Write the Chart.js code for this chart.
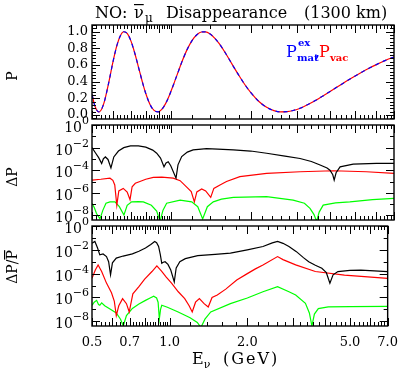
<!DOCTYPE html>
<html><head><meta charset="utf-8">
<script src="https://cdn.jsdelivr.net/npm/chart.js@4"></script>
<style>
html,body{margin:0;padding:0;background:#fff;}
#wrap{position:relative;width:407px;height:370px;background:#fff;}
canvas{position:absolute;left:0;top:0;}
</style></head><body>
<div id="wrap">
<canvas id="c1" width="407" height="370"></canvas>
<canvas id="c2" width="407" height="370"></canvas>
<canvas id="c3" width="407" height="370"></canvas>
</div>
<script>
// ---------------- DATA ----------------
const energyP = [0.50,0.51,0.52,0.53,0.54,0.55,0.56,0.58,0.60,0.62,0.64,0.66,0.68,0.70,0.72,0.74,0.76,0.78,0.80,0.83,0.86,0.89,0.92,0.95,0.98,1.02,1.06,1.10,1.15,1.20,1.25,1.30,1.35,1.40,1.46,1.52,1.60,1.70,1.80,1.90,2.00,2.15,2.30,2.45,2.60,2.75,2.90,3.10,3.30,3.55,3.80,4.10,4.40,4.80,5.20,5.60,6.00,6.50,7.00];
const pVac   = [0.245,0.131,0.062,0.035,0.052,0.105,0.187,0.401,0.630,0.822,0.949,0.999,0.978,0.901,0.785,0.648,0.507,0.373,0.256,0.125,0.053,0.036,0.066,0.132,0.224,0.365,0.511,0.647,0.790,0.896,0.963,0.996,0.997,0.975,0.923,0.855,0.749,0.609,0.480,0.365,0.270,0.160,0.090,0.051,0.036,0.038,0.052,0.083,0.124,0.178,0.236,0.301,0.363,0.437,0.501,0.556,0.604,0.655,0.696];
const pMatEx = [0.245,0.131,0.062,0.035,0.052,0.105,0.187,0.401,0.630,0.822,0.949,0.999,0.978,0.901,0.785,0.648,0.507,0.373,0.256,0.125,0.053,0.036,0.066,0.132,0.224,0.365,0.511,0.647,0.790,0.896,0.963,0.996,0.997,0.975,0.923,0.855,0.749,0.609,0.480,0.365,0.270,0.160,0.090,0.051,0.036,0.038,0.052,0.083,0.124,0.178,0.236,0.301,0.363,0.437,0.501,0.556,0.604,0.655,0.696];

// Delta P (middle panel)
const eBlackDP = [0.500,0.515,0.530,0.544,0.552,0.562,0.575,0.590,0.605,0.630,0.660,0.700,0.750,0.800,0.850,0.880,0.910,0.938,0.955,0.973,0.995,1.042,1.060,1.095,1.150,1.210,1.300,1.360,1.500,1.720,2.000,2.300,2.700,3.080,3.400,3.670,3.900,4.000,4.100,4.150,4.220,4.370,4.900,6.000,7.000];
const blackDP  = [1.0e-2,3.5e-3,1.3e-3,4.0e-4,1.0e-3,1.5e-3,9.0e-4,1.6e-4,1.5e-3,5.0e-3,1.0e-2,1.4e-2,1.4e-2,1.1e-2,6.0e-3,3.2e-3,1.2e-3,2.0e-4,4.5e-4,5.6e-4,2.5e-4,2.0e-5,3.0e-4,1.6e-3,4.0e-3,6.3e-3,7.5e-3,8.0e-3,7.5e-3,6.3e-3,5.0e-3,3.2e-3,1.8e-3,1.1e-3,6.0e-4,2.9e-4,1.6e-4,1.0e-4,4.0e-5,1.35e-5,6.0e-5,2.0e-4,3.5e-4,4.0e-4,4.0e-4];
const eRedDP = [0.500,0.540,0.585,0.600,0.610,0.621,0.632,0.657,0.680,0.697,0.710,0.730,0.760,0.800,0.854,0.920,1.017,1.080,1.144,1.190,1.223,1.250,1.304,1.350,1.411,1.450,1.530,1.620,1.820,2.300,3.080,4.120,5.500,7.000];
const redDP  = [1.35e-5,1.6e-5,2.0e-5,1.3e-5,5.0e-6,8.0e-8,1.5e-6,2.5e-6,1.2e-6,2.5e-7,3.5e-6,7.0e-6,1.0e-5,1.6e-5,2.3e-5,2.5e-5,2.0e-5,1.2e-5,3.2e-6,1.3e-6,1.6e-7,1.2e-6,2.2e-6,1.5e-6,4.0e-7,2.5e-6,5.0e-6,1.0e-5,2.7e-5,5.2e-5,7.4e-5,9.0e-5,7.4e-5,5.2e-5];
const eGreenDP = [0.500,0.510,0.520,0.536,0.550,0.565,0.585,0.611,0.635,0.661,0.680,0.707,0.750,0.783,0.840,0.880,0.906,0.930,0.960,1.080,1.195,1.260,1.315,1.370,1.443,1.550,1.720,2.300,2.900,3.200,3.360,3.480,3.560,3.640,3.770,4.200,4.760,5.800,7.000];
const greenDP  = [1.2e-7,5.0e-8,1.5e-8,5.0e-9,3.0e-8,1.2e-7,1.6e-7,1.6e-7,6.0e-8,1.1e-8,8.0e-8,1.6e-7,1.7e-7,1.6e-7,8.0e-8,2.5e-8,3.0e-9,3.0e-8,1.2e-7,2.3e-7,1.6e-7,6.0e-8,5.0e-9,6.0e-8,1.6e-7,2.8e-7,4.0e-7,4.6e-7,2.3e-7,1.2e-7,4.3e-8,1.2e-8,3.0e-9,2.0e-8,8.3e-8,1.3e-7,1.6e-7,2.5e-7,3.2e-7];

// Delta P / Pbar (bottom panel)
const eBlackRel = [0.500,0.513,0.525,0.536,0.552,0.569,0.580,0.590,0.600,0.621,0.660,0.717,0.760,0.806,0.845,0.875,0.890,0.906,0.920,0.932,0.945,0.960,0.985,1.010,1.042,1.060,1.095,1.150,1.285,1.500,1.720,2.000,2.300,2.500,2.620,2.750,2.900,3.100,3.300,3.460,3.670,3.890,4.050,4.180,4.300,4.490,5.000,5.510,7.000];
const blackRel  = [3.5e-2,5.0e-2,1.5e-2,3.8e-3,4.5e-3,2.7e-3,1.0e-3,8.0e-5,8.0e-4,2.0e-3,3.0e-3,4.6e-3,7.5e-3,1.4e-2,2.8e-2,5.0e-2,4.0e-2,1.9e-2,4.0e-3,7.4e-4,9.0e-4,1.0e-3,6.0e-4,2.0e-4,2.0e-5,3.0e-4,1.0e-3,1.8e-3,3.2e-3,4.2e-3,5.2e-3,1.0e-2,1.9e-2,3.8e-2,5.0e-2,3.5e-2,1.9e-2,7.0e-3,2.2e-3,1.0e-3,5.0e-4,2.8e-4,1.2e-4,1.6e-5,8.0e-5,1.5e-4,1.9e-4,2.0e-4,1.5e-4];
const eRedRel = [0.500,0.515,0.528,0.545,0.569,0.595,0.610,0.621,0.635,0.657,0.680,0.697,0.720,0.760,0.800,0.854,0.892,0.930,0.970,1.017,1.080,1.144,1.190,1.223,1.260,1.304,1.360,1.411,1.460,1.530,1.650,1.820,2.000,2.150,2.300,2.620,2.750,3.080,3.670,4.760,7.000];
const redRel  = [4.0e-5,2.0e-4,5.4e-4,1.5e-4,1.6e-5,2.5e-6,5.0e-7,3.0e-8,2.0e-7,8.0e-7,3.0e-7,6.0e-8,2.0e-6,8.0e-6,3.5e-5,1.5e-4,4.4e-4,1.6e-4,5.0e-5,1.6e-5,3.0e-6,8.0e-7,2.0e-7,6.0e-8,4.0e-7,8.0e-7,3.0e-7,1.6e-7,1.0e-6,1.6e-6,5.0e-6,2.9e-5,1.0e-4,2.5e-4,5.4e-4,2.7e-3,1.5e-3,5.4e-4,1.5e-4,7.6e-5,4.0e-5];
const eGreenRel = [0.500,0.510,0.521,0.530,0.536,0.545,0.560,0.585,0.621,0.645,0.661,0.680,0.717,0.760,0.806,0.840,0.867,0.890,0.902,0.912,0.922,0.932,0.980,1.079,1.200,1.280,1.322,1.370,1.443,1.720,2.000,2.300,2.620,2.900,3.080,3.360,3.480,3.560,3.640,3.770,4.120,5.000,7.000];
const greenRel  = [2.2e-7,4.0e-7,5.7e-7,2.5e-7,2.2e-7,3.5e-7,2.0e-7,1.1e-7,5.0e-8,1.5e-8,4.0e-9,3.0e-8,1.2e-7,2.8e-7,5.7e-7,9.0e-7,1.26e-6,9.0e-7,4.0e-7,1.6e-8,1.0e-7,2.2e-7,1.5e-7,6.0e-8,2.0e-8,8.0e-9,3.0e-9,1.5e-8,6.0e-8,3.0e-7,9.0e-7,3.0e-6,8.0e-6,3.0e-6,1.6e-6,3.2e-7,5.0e-8,4.0e-9,4.0e-8,1.15e-7,1.6e-7,1.7e-7,1.8e-7];

// Ticks
const xTickLabels = [0.5,0.7,1.0,2.0,5.0,7.0];
const xMajorTicks = [0.5,0.6,0.7,0.8,0.9,1,2,3,4,5,6,7];
const pTickLabels = [0.0,0.2,0.4,0.6,0.8,1.0];
const logLabelExps = [0,-2,-4,-6,-8];
const logOddExps = [-1,-3,-5,-7];

// ---------------- DRAWING ----------------
const FONT = '"DejaVu Serif", serif';
const xMinorTicks = [];
for (let i = 26; i < 50; i++) if (i % 5) xMinorTicks.push(i / 50);
for (let i = 6; i < 35; i++) if (i % 5) xMinorTicks.push(i / 5);
const pMinorTicks = [];
for (let i = -1; i <= 27; i++) if (i % 5) pMinorTicks.push(i * 0.04);

function ser(e, v) { return e.map((x, i) => ({x: x, y: v[i]})); }

function framePlugin(yMajor, yMinor) {
  return {
    id: 'frame',
    afterDraw(chart) {
      const ctx = chart.ctx, a = chart.chartArea;
      const xs = chart.scales.x, ys = chart.scales.y;
      ctx.save();
      ctx.strokeStyle = '#000';
      ctx.lineWidth = 1;
      ctx.beginPath();
      const vx = (list, len) => list.forEach(v => {
        const p = Math.round(xs.getPixelForValue(v)) + 0.5;
        ctx.moveTo(p, a.bottom); ctx.lineTo(p, a.bottom - len);
        ctx.moveTo(p, a.top); ctx.lineTo(p, a.top + len);
      });
      const hy = (list, len) => list.forEach(v => {
        const p = Math.round(ys.getPixelForValue(v)) + 0.5;
        if (p < a.top - 0.1 || p > a.bottom + 0.1) return;
        ctx.moveTo(a.left, p); ctx.lineTo(a.left + len, p);
        ctx.moveTo(a.right, p); ctx.lineTo(a.right - len, p);
      });
      vx(xMajorTicks, 8); vx(xMinorTicks, 4);
      hy(yMajor, 8); hy(yMinor, 4);
      ctx.stroke();
      ctx.lineWidth = 1.4;
      ctx.strokeRect(a.left, a.top, a.right - a.left, a.bottom - a.top);
      ctx.restore();
    }
  };
}

const expLabelPlugin = {
  id: 'expLabels',
  afterDraw(chart) {
    const ys = chart.scales.y, ctx = chart.ctx;
    ctx.save(); ctx.fillStyle = '#000'; ctx.textAlign = 'left'; ctx.textBaseline = 'alphabetic';
    logLabelExps.forEach(p => {
      const y = ys.getPixelForValue(Math.pow(10, p));
      const sup = p === 0 ? '0' : '\u2212' + Math.abs(p);
      ctx.font = '11px ' + FONT; const ws = ctx.measureText(sup).width;
      ctx.font = '14px ' + FONT; const wb = ctx.measureText('10').width;
      const right = 89;
      ctx.fillText('10', right - ws - wb, y + 7);
      ctx.font = '11px ' + FONT; ctx.fillText(sup, right - ws, y - 1);
    });
    ctx.restore();
  }
};

function yTitlePlugin(text, cy, bar) {
  return {
    id: 'ytitle',
    afterDraw(chart) {
      const ctx = chart.ctx;
      ctx.save();
      ctx.translate(17, cy); ctx.rotate(-Math.PI / 2);
      ctx.font = '14px ' + FONT; ctx.fillStyle = '#000';
      ctx.textAlign = 'left'; ctx.textBaseline = 'alphabetic';
      const w = ctx.measureText(text).width;
      ctx.fillText(text, -w / 2, 0);
      if (bar) {
        const wp = ctx.measureText('P').width;
        ctx.fillRect(w / 2 - wp, -13, wp, 1.2);
      }
      ctx.restore();
    }
  };
}

const topTextPlugin = {
  id: 'topText',
  afterDraw(chart) {
    const ctx = chart.ctx;
    ctx.save(); ctx.fillStyle = '#000'; ctx.textAlign = 'left'; ctx.textBaseline = 'alphabetic';
    const big = '16px ' + FONT;
    ctx.font = big;
    ctx.fillText('NO:', 95, 18);
    ctx.fillText('\u03bd', 134, 18);
    const wn = ctx.measureText('\u03bd').width;
    ctx.fillRect(134, 4, wn, 1.2);
    ctx.font = '12px ' + FONT; ctx.fillText('\u03bc', 145, 22);
    ctx.font = big;
    ctx.fillText('Disappearance', 166, 18);
    ctx.fillText('(1300 km)', 304, 18);
    // legend
    ctx.fillStyle = '#0000ff';
    ctx.font = '16px ' + FONT; ctx.fillText('P', 286, 57);
    ctx.font = 'bold 10px ' + FONT;
    ctx.fillText('ex', 298, 46);
    ctx.fillText('mat', 297, 61);
    ctx.font = '16px ' + FONT; ctx.fillText(',', 315, 57);
    ctx.fillStyle = '#ff0000';
    ctx.fillText('P', 319, 57);
    ctx.font = 'bold 10px ' + FONT; ctx.fillText('vac', 330, 61);
    ctx.restore();
  }
};

const xTitlePlugin = {
  id: 'xtitle',
  afterDraw(chart) {
    const ctx = chart.ctx;
    ctx.save(); ctx.fillStyle = '#000'; ctx.textAlign = 'left'; ctx.textBaseline = 'alphabetic';
    ctx.font = '16px ' + FONT; ctx.fillText('E', 192, 364);
    const we = ctx.measureText('E').width;
    ctx.font = '11px ' + FONT; ctx.fillText('\u03bd', 192 + we, 368);
    ctx.font = '16px ' + FONT;
    if ('letterSpacing' in ctx) ctx.letterSpacing = '2px';
    ctx.fillText('(GeV)', 223, 364);
    ctx.restore();
  }
};

function xScale(show) {
  const s = {
    type: 'logarithmic', min: 0.5, max: 7.0, display: show,
    grid: {display: false, drawTicks: false}, border: {display: false},
    afterBuildTicks: ax => { ax.ticks = xTickLabels.map(v => ({value: v})); },
    ticks: {
      autoSkip: false, maxRotation: 0, padding: 9, color: '#000',
      font: {family: '"DejaVu Serif"', size: 13},
      callback: v => Number(v).toFixed(1)
    }
  };
  if (show) s.afterFit = ax => { ax.height = 44; };
  return s;
}

function logY() {
  return {
    type: 'logarithmic', min: 4e-9, max: 1,
    grid: {display: false, drawTicks: false}, border: {display: false},
    ticks: {display: false},
    afterFit: ax => { ax.width = 92; }
  };
}

function line(data, color, dash) {
  return {data: data, borderColor: color, borderWidth: 1.2, pointRadius: 0, fill: false,
          tension: 0, borderDash: dash || [], spanGaps: true};
}

const common = {
  responsive: false, animation: false, events: [],
  plugins: {legend: {display: false}, tooltip: {enabled: false}, title: {display: false}}
};

// Top panel
new Chart(document.getElementById('c1'), {
  type: 'line',
  data: {datasets: [
    Object.assign(line(ser(energyP, pMatEx), '#0000ff', [4, 4]), {cubicInterpolationMode: 'monotone'}),
    Object.assign(line(ser(energyP, pVac), '#ff0000'), {cubicInterpolationMode: 'monotone'})
  ]},
  options: Object.assign({}, common, {
    layout: {padding: {top: 25, bottom: 251, left: 0, right: 13}},
    scales: {
      x: xScale(false),
      y: {
        type: 'linear', min: -0.05, max: 1.08,
        grid: {display: false, drawTicks: false}, border: {display: false},
        afterBuildTicks: ax => { ax.ticks = pTickLabels.map(v => ({value: v})); },
        ticks: {padding: 4, color: '#000', font: {family: '"DejaVu Serif"', size: 13},
                callback: v => Number(v).toFixed(1)},
        afterFit: ax => { ax.width = 92; }
      }
    }
  }),
  plugins: [framePlugin(pTickLabels, pMinorTicks), topTextPlugin, yTitlePlugin('P', 76, false)]
});

// Middle panel
new Chart(document.getElementById('c2'), {
  type: 'line',
  data: {datasets: [
    line(ser(eBlackDP, blackDP), '#000000'),
    line(ser(eRedDP, redDP), '#ff0000'),
    line(ser(eGreenDP, greenDP), '#00ff00')
  ]},
  options: Object.assign({}, common, {
    layout: {padding: {top: 125, bottom: 150, left: 0, right: 13}},
    scales: {x: xScale(false), y: logY()}
  }),
  plugins: [framePlugin(logLabelExps.map(p => Math.pow(10, p)), logOddExps.map(p => Math.pow(10, p))),
            expLabelPlugin, yTitlePlugin('\u0394P', 177, false)]
});

// Bottom panel
new Chart(document.getElementById('c3'), {
  type: 'line',
  data: {datasets: [
    line(ser(eBlackRel, blackRel), '#000000'),
    line(ser(eRedRel, redRel), '#ff0000'),
    line(ser(eGreenRel, greenRel), '#00ff00')
  ]},
  options: Object.assign({}, common, {
    layout: {padding: {top: 226, bottom: 0, left: 0, right: 13}},
    scales: {x: xScale(true), y: logY()}
  }),
  plugins: [framePlugin(logLabelExps.map(p => Math.pow(10, p)), logOddExps.map(p => Math.pow(10, p))),
            expLabelPlugin, yTitlePlugin('\u0394P/P', 267, true), xTitlePlugin]
});
</script>
</body></html>
